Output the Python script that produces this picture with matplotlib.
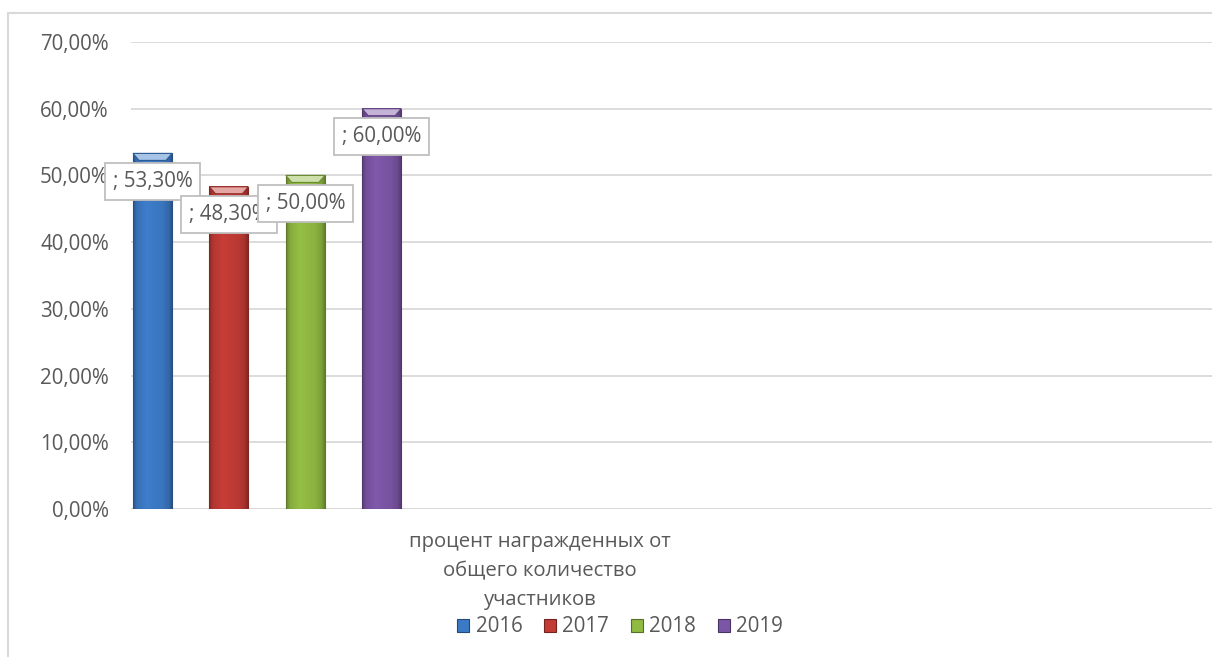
import numpy as np
import matplotlib
matplotlib.use("Agg")
import matplotlib.pyplot as plt
from matplotlib.colors import to_rgb
from matplotlib.patches import Patch, Polygon, Rectangle

years = ["2016", "2017", "2018", "2019"]
values = [53.3, 48.3, 50.0, 60.0]
colors = ["#3C7AC6", "#C23B35", "#90BA42", "#7C56A6"]
category = "процент награжденных от\nобщего количество\nучастников"
yticks = [0, 10, 20, 30, 40, 50, 60, 70]

TEXT = "#595959"
GRID = "#D9D9D9"
W, H = 1212, 657

plt.rcParams["font.family"] = ["Open Sans", "DejaVu Sans"]

fig = plt.figure(figsize=(W / 100, H / 100), dpi=100)
ax = fig.add_axes([131 / W, 1 - 509 / H, (W - 131) / W, (509 - 42) / H])

# outer chart frame (right/bottom edges fall outside the picture)
fig.patches.append(Rectangle((8 / W, -0.1), 2, 1 - 13 / H + 0.1, fill=False,
                             edgecolor=GRID, lw=1.5, transform=fig.transFigure))

ax.set_xlim(0, W - 131)
ax.set_ylim(0, 70)
ax.set_yticks(yticks)
ax.set_yticklabels([f"{v:.2f}%".replace(".", ",") for v in yticks],
                   fontsize=14.8, color=TEXT)
ax.tick_params(axis="y", length=0, pad=16)
ax.set_xticks([])
for s in ax.spines.values():
    s.set_visible(False)
ax.grid(axis="y", color=GRID, lw=1.3)
ax.set_axisbelow(True)
ax.axhline(0, color=GRID, lw=1.8, zorder=1)

bar_w = 39
step = 76.4
first = 21.5
px = 70 / (509 - 42)  # data units per pixel vertically

nodes_t = [0.0, 0.1, 0.35, 0.75, 0.92, 1.0]
nodes_f = [0.72, 0.92, 1.03, 0.96, 0.86, 0.7]

for i, (yr, v, c) in enumerate(zip(years, values, colors)):
    cx = first + i * step
    x0, x1 = cx - bar_w / 2, cx + bar_w / 2
    base = np.array(to_rgb(c))
    t = np.linspace(0, 1, 60)
    f = np.interp(t, nodes_t, nodes_f)
    grad = np.clip(base[None, :] * f[:, None], 0, 1)[None, :, :]
    ax.imshow(grad, extent=[x0, x1, 0, v], aspect="auto", zorder=2,
              interpolation="bilinear")
    ax.add_patch(Rectangle((x0, 0), bar_w, v, fill=False,
                           edgecolor=base * 0.65, lw=0.8, zorder=3))
    light = base + (1 - base) * 0.55
    dy = 7 * px
    cap = Polygon([(x0, v), (x1, v), (x1 - 6, v - dy), (x0 + 6, v - dy)],
                  closed=True, facecolor=light, edgecolor=base * 0.75,
                  lw=0.8, zorder=4)
    ax.add_patch(cap)
    ax.annotate("; " + f"{v:.2f}%".replace(".", ","), (cx, v),
                xytext=(0, -28), textcoords="offset pixels",
                ha="center", va="center", fontsize=14.8, color=TEXT,
                zorder=10 + i, annotation_clip=False,
                bbox=dict(boxstyle="square,pad=0.38", facecolor="white",
                          edgecolor="#BFBFBF", lw=1.3))

ax.set_xlim(0, W - 131)

fig.text(540 / W, 1 - 571 / H, category, ha="center", va="center",
         fontsize=14.6, color=TEXT, linespacing=1.6)

handles = [Patch(facecolor=c, edgecolor=np.array(to_rgb(c)) * 0.6, lw=0.8)
           for c in colors]
fig.legend(handles, years, loc="center", bbox_to_anchor=(620 / W, 1 - 627 / H),
           ncol=4, frameon=False, fontsize=14.8, labelcolor=TEXT,
           handlelength=0.6, handleheight=0.6, handletextpad=0.3,
           columnspacing=1.05, borderaxespad=0)

fig.savefig("out.png", dpi=100)
